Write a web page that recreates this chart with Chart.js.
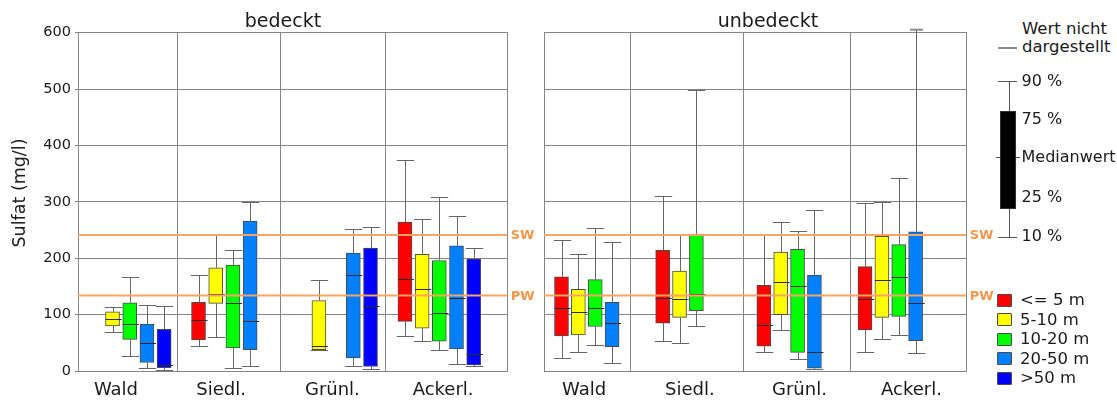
<!DOCTYPE html>
<html lang="de">
<head>
<meta charset="utf-8">
<title>Sulfat – bedeckt / unbedeckt</title>
<script src="https://cdn.jsdelivr.net/npm/chart.js@4.4.1/dist/chart.umd.min.js"></script>
<style>
  body { margin: 0; background: #fff; font-family: 'DejaVu Sans', sans-serif; color: #1a1a1a; }
  #wrap { position: relative; width: 1117px; height: 401px; overflow: hidden; }
  #wrap canvas { position: absolute; top: 0; }
  .abs { position: absolute; white-space: nowrap; }
  .panel-title { width: 200px; text-align: center; font-size: 19px; line-height: 19px; top: 10.6px; }
  .y-title { width: 200px; height: 22px; line-height: 22px; text-align: center; font-size: 17.5px;
             left: -81px; top: 182px; transform: rotate(-90deg); }
  .lg-text { font-size: 16px; line-height: 20px; left: 1021.5px; }
  .lg-swatch { position: absolute; left: 997px; width: 14.5px; height: 13px; box-sizing: border-box;
               border: 1px solid #4a4a4a; border-radius: 1px; }
  .lg-depth { font-size: 16.5px; line-height: 20px; left: 1020px; }
</style>
</head>
<body>
<div id="wrap">
  <canvas id="cBedeckt" width="545" height="401" style="left:0"></canvas>
  <canvas id="cUnbedeckt" width="465" height="401" style="left:530px"></canvas>
  <div class="abs panel-title" style="left:183px">bedeckt</div>
  <div class="abs panel-title" style="left:668px">unbedeckt</div>
  <div class="abs y-title">Sulfat (mg/l)</div>

  <!-- key for the box glyph -->
  <div class="abs" style="left:1022px; top:20.3px; font-size:16.5px; line-height:18px">Wert nicht<br>dargestellt</div>
  <div class="abs" style="left:998px; top:47px; width:19px; height:2px; background:#8c8c8c"></div>
  <div class="abs" style="left:1008.5px; top:81px; width:1px; height:156px; background:#555"></div>
  <div class="abs" style="left:998px; top:81px; width:19px; height:1px; background:#555"></div>
  <div class="abs" style="left:998px; top:237px; width:19px; height:1px; background:#555"></div>
  <div class="abs" style="left:1000px; top:111px; width:16px; height:98px; background:#000; box-sizing:border-box; border:1px solid #333"></div>
  <div class="abs" style="left:996px; top:156.5px; width:4px; height:1px; background:#555"></div>
  <div class="abs" style="left:1016px; top:156.5px; width:4px; height:1px; background:#555"></div>
  <div id="quantKey"></div>
  <div id="depthKey"></div>
</div>

<script>
// ---- data -----------------------------------------------------------
const categories = ['Wald', 'Siedl.', 'Grünl.', 'Ackerl.'];
const depthClasses = ['<= 5 m', '5-10 m', '10-20 m', '20-50 m', '>50 m'];
const legendQuantiles = ['90 %', '75 %', 'Medianwert', '25 %', '10 %'];
const thresholdNames = ['SW', 'PW'];
const thresholdValues = [241, 134];

// one entry per category: [P10, P25, Median, P75, P90]
// null = no box, 'n.d.' = value above the axis (Wert nicht dargestellt)
const bedecktLe5    = [null, [45, 55, 90, 122, 170], null, [62, 88, 164, 264, 375]];
const bedeckt5to10  = [[70, 80, 93, 105, 113], [61, 120, 137, 183, 243], [37, 38, 44, 125, 161], [53, 76, 145, 207, 270]];
const bedeckt10to20 = [[26, 56, 83, 121, 167], [5, 41, 120, 188, 214], null, [37, 53, 103, 196, 309]];
const bedeckt20to50 = [[5, 15, 50, 83, 117], [8, 38, 88, 266, 300], [9, 23, 171, 209, 252], [13, 39, 129, 222, 275]];
const bedecktGt50   = [[2, 6, 10, 74, 115], null, [3, 8, 116, 218, 255], [8, 11, 31, 199, 218]];

const unbedecktLe5    = [[23, 62, 112, 167, 233], [54, 85, 130, 214, 311], [34, 44, 81, 152, 242], [33, 73, 128, 185, 298]];
const unbedeckt5to10  = [[33, 64, 104, 145, 208], [49, 95, 127, 177, 243], [73, 100, 158, 211, 264], [56, 95, 162, 239, 299]];
const unbedeckt10to20 = [[46, 79, 111, 162, 254], [80, 107, 136, 243, 498], [21, 33, 150, 216, 248], [63, 97, 166, 224, 343]];
const unbedeckt20to50 = [[15, 43, 86, 122, 229], null, [3, 5, 33, 170, 286], [32, 54, 121, 247, 'n.d.']];
const unbedecktGt50   = [null, null, null, null];

// ---- styling ----------------------------------------------------------
const depthColors = ['#ff0000', '#ffff00', '#00ff00', '#0080ff', '#0000ff'];
const GRID = '#858585';
const WHISKER = '#666';
const ORANGE_LINE = '#f9a462';
const ORANGE_TEXT = '#f7964a';
const FONT = "'DejaVu Sans', sans-serif";

Chart.defaults.font.family = FONT;
Chart.defaults.color = '#1a1a1a';

// whiskers, caps and median for each floating bar
const boxWhiskers = {
  id: 'boxWhiskers',
  afterDatasetDraw(chart, args) {
    const meta = args.meta;
    if (meta.type !== 'bar') return;
    const ds = chart.data.datasets[args.index];
    const y = chart.scales.y;
    const ctx = chart.ctx;
    const crisp = v => Math.round(v) + 0.5;
    ctx.save();
    meta.data.forEach((bar, i) => {
      const [p10, p25, med, p75, p90] = ds.data[i].stats;
      const cx = crisp(bar.x);
      const half = bar.width / 2;
      const cap = bar.width * 0.62;
      ctx.lineWidth = 1;
      ctx.strokeStyle = WHISKER;
      ctx.beginPath();
      // lower whisker
      const yLo = crisp(y.getPixelForValue(p10));
      ctx.moveTo(cx, y.getPixelForValue(p25));
      ctx.lineTo(cx, yLo);
      ctx.moveTo(cx - cap, yLo);
      ctx.lineTo(cx + cap, yLo);
      // upper whisker
      const yHi = p90 === 'n.d.' ? chart.chartArea.top - 3 : crisp(y.getPixelForValue(p90));
      ctx.moveTo(cx, y.getPixelForValue(p75));
      ctx.lineTo(cx, yHi);
      if (p90 !== 'n.d.') {
        ctx.moveTo(cx - cap, yHi);
        ctx.lineTo(cx + cap, yHi);
      }
      ctx.stroke();
      if (p90 === 'n.d.') {
        ctx.strokeStyle = '#8c8c8c';
        ctx.lineWidth = 2;
        ctx.beginPath();
        ctx.moveTo(cx - 6.5, yHi);
        ctx.lineTo(cx + 6.5, yHi);
        ctx.stroke();
      }
      // median
      const yMed = crisp(y.getPixelForValue(med));
      ctx.strokeStyle = '#2a2a2a';
      ctx.lineWidth = 1;
      ctx.beginPath();
      ctx.moveTo(bar.x - half, yMed);
      ctx.lineTo(bar.x + half + 2, yMed);
      ctx.stroke();
    });
    ctx.restore();
  }
};

const thresholdLabels = {
  id: 'thresholdLabels',
  afterDraw(chart) {
    const { ctx, chartArea, scales: { y } } = chart;
    ctx.save();
    ctx.font = 'bold 13px ' + FONT;
    ctx.fillStyle = ORANGE_TEXT;
    ctx.textBaseline = 'middle';
    thresholdValues.forEach((v, k) => {
      ctx.fillText(thresholdNames[k], chartArea.right + 3, y.getPixelForValue(v) + 1);
    });
    ctx.restore();
  }
};

function buildDatasets(series, xMin, xMax) {
  const boxes = series.map((vals, j) => ({
    type: 'bar',
    label: depthClasses[j],
    order: 1,
    backgroundColor: depthColors[j],
    borderColor: '#4a4a4a',
    borderWidth: 1,
    borderSkipped: false,
    grouped: false,
    barThickness: 14,
    maxBarThickness: 14,
    data: vals
      .map((s, i) => s && { x: i + j / 6, y: [s[1], s[3]], stats: s })
      .filter(Boolean)
  }));
  const lines = thresholdValues.map((v, k) => ({
    type: 'line',
    label: thresholdNames[k],
    order: 0,
    borderColor: ORANGE_LINE,
    borderWidth: 2,
    pointRadius: 0,
    data: [{ x: xMin, y: v }, { x: xMax, y: v }]
  }));
  return lines.concat(boxes);
}

function makePanel(p) {
  const ticks = p.labelPos.map((v, i) => ({ value: v, label: categories[i], sep: false }))
    .concat(p.seps.map(v => ({ value: v, sep: true })))
    .concat([{ value: p.xMax, sep: true }])
    .sort((a, b) => a.value - b.value);

  return new Chart(document.getElementById(p.canvas), {
    type: 'bar',
    data: { datasets: buildDatasets(p.series, p.xMin, p.xMax) },
    options: {
      responsive: false,
      animation: false,
      events: [],
      layout: { padding: { top: 32.7, right: p.padRight, left: 0, bottom: 0 } },
      plugins: { legend: { display: false }, tooltip: { enabled: false } },
      scales: {
        x: {
          type: 'linear',
          min: p.xMin,
          max: p.xMax,
          offset: false,
          afterBuildTicks: s => { s.ticks = ticks.map(t => ({ value: t.value, sep: t.sep, name: t.label })); },
          afterFit: s => { s.height = 30; },
          grid: {
            offset: false,
            drawTicks: false,
            color: c => (c.tick && c.tick.sep ? GRID : 'rgba(0,0,0,0)')
          },
          border: { color: GRID },
          ticks: {
            autoSkip: false,
            maxRotation: 0,
            padding: 9,
            font: { size: 18 },
            callback: (v, i, arr) => arr[i].name || ''
          }
        },
        y: {
          min: 0,
          max: 600,
          afterFit: s => { s.width = p.yAxisWidth; },
          grid: { color: GRID, drawTicks: p.showYTicks, tickLength: 3 },
          border: { color: GRID },
          ticks: { display: p.showYTicks, stepSize: 100, padding: 4, font: { size: 14.5 } }
        }
      }
    },
    plugins: [boxWhiskers, thresholdLabels]
  });
}

makePanel({
  canvas: 'cBedeckt',
  series: [bedecktLe5, bedeckt5to10, bedeckt10to20, bedeckt20to50, bedecktGt50],
  xMin: -0.168, xMax: 3.996,
  seps: [0.795, 1.793, 2.81],
  labelPos: [0.2, 1.218, 2.297, 3.37],
  yAxisWidth: 78, padRight: 37.3, showYTicks: true
});

makePanel({
  canvas: 'cUnbedeckt',
  series: [unbedecktLe5, unbedeckt5to10, unbedeckt10to20, unbedeckt20to50, unbedecktGt50],
  xMin: -0.173, xMax: 4.005,
  seps: [0.684, 1.795, 2.854],
  labelPos: [0.223, 1.268, 2.352, 3.46],
  yAxisWidth: 14, padRight: 28.3, showYTicks: false
});

// ---- keys on the right --------------------------------------------------
const quantY = [80.5, 119, 157, 196.5, 236];
document.getElementById('quantKey').innerHTML = legendQuantiles
  .map((t, k) => `<div class="abs lg-text" style="top:${quantY[k] - 10}px">${t}</div>`).join('');

document.getElementById('depthKey').innerHTML = depthClasses
  .map((t, j) => {
    const cy = 300 + j * 19.5;
    const label = t.replace('<', '&lt;').replace('>', '&gt;');
    return `<div class="lg-swatch" style="top:${cy - 6.5}px; background:${depthColors[j]}"></div>` +
           `<div class="abs lg-depth" style="top:${cy - 10}px">${label}</div>`;
  }).join('');
</script>
</body>
</html>
